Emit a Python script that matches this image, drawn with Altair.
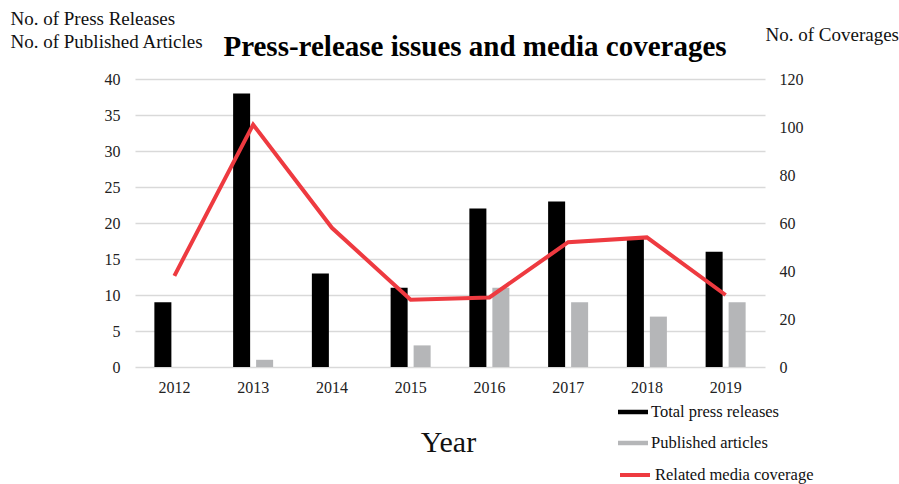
import altair as alt
import pandas as pd

years = ["2012", "2013", "2014", "2015", "2016", "2017", "2018", "2019"]
total_releases = [9, 38, 13, 11, 22, 23, 18, 16]
published_articles = [0, 1, 0, 3, 11, 9, 7, 9]
media_coverage = [38, 101, 58, 28, 29, 52, 54, 30]
series_names = ["Total press releases", "Published articles"]
line_name = "Related media coverage"

FONT = "Liberation Serif"

bars_df = pd.DataFrame(
    [{"Year": y, "Series": series_names[0], "Value": v} for y, v in zip(years, total_releases)]
    + [{"Year": y, "Series": series_names[1], "Value": v} for y, v in zip(years, published_articles)]
)
line_df = pd.DataFrame({"Year": years, "Coverage": media_coverage, "Series": line_name})

x_scale = alt.Scale(domain=years, paddingInner=0.416, paddingOuter=0.208)

bars = alt.Chart(bars_df).mark_bar().encode(
    x=alt.X("Year:N", scale=x_scale, sort=years,
            axis=alt.Axis(title="Year", labelAngle=0, labelFont=FONT, labelFontSize=16,
                          labelColor="#222222", labelPadding=12, titleFont=FONT,
                          titleFontSize=30, titleFontWeight="normal", titleColor="#111111",
                          titleX=313, titleY=84, titleAlign="center",
                          titleBaseline="alphabetic")),
    xOffset=alt.XOffset("Series:N", sort=series_names,
                        scale=alt.Scale(domain=series_names, paddingInner=0.26, paddingOuter=0.13)),
    y=alt.Y("Value:Q", scale=alt.Scale(domain=[0, 40]),
            axis=alt.Axis(values=list(range(0, 41, 5)), grid=True, gridColor="#d9d9d9",
                          gridWidth=1.5, labelFont=FONT, labelFontSize=16, labelColor="#222222",
                          labelPadding=15,
                          title=["No. of Press Releases", "No. of Published Articles"],
                          titleAngle=0, titleAlign="left", titleBaseline="alphabetic",
                          titleX=-125, titleY=-55, titleFont=FONT, titleFontSize=19,
                          titleFontWeight="normal", titleColor="#111111", titleLineHeight=23)),
    color=alt.Color("Series:N", sort=series_names,
                    scale=alt.Scale(domain=series_names, range=["#000000", "#b5b6b8"]),
                    legend=alt.Legend(title=None, orient="none", legendX=483, legendY=318,
                                      symbolType="M-1,-0.15L1,-0.15L1,0.15L-1,0.15Z",
                                      symbolSize=900, symbolStrokeWidth=0,
                                      labelFont=FONT, labelFontSize=16.5, labelColor="#111111",
                                      labelOffset=3, rowPadding=7, labelLimit=300)),
)

line = alt.Chart(line_df).mark_line(strokeWidth=4).encode(
    x=alt.X("Year:N", scale=x_scale, sort=years),
    y=alt.Y("Coverage:Q", scale=alt.Scale(domain=[0, 120]),
            axis=alt.Axis(orient="right", values=list(range(0, 121, 20)), grid=False,
                          labelFont=FONT, labelFontSize=16, labelColor="#222222",
                          labelPadding=14, title="No. of Coverages", titleAngle=0,
                          titleAlign="left", titleBaseline="alphabetic", titleX=0, titleY=-39,
                          titleFont=FONT, titleFontSize=19, titleFontWeight="normal",
                          titleColor="#111111")),
    stroke=alt.Stroke("Series:N", scale=alt.Scale(domain=[line_name], range=["#ee3a40"]),
                      legend=alt.Legend(title=None, orient="none", legendX=483, legendY=379,
                                        symbolType="stroke", symbolSize=900,
                                        symbolStrokeWidth=4, labelFont=FONT, labelFontSize=16.5,
                                        labelColor="#111111", labelOffset=3, labelLimit=300)),
)

chart = alt.layer(bars, line).resolve_scale(y="independent", color="independent").properties(
    width=630,
    height=288,
    title=alt.TitleParams("Press-release issues and media coverages", font=FONT, fontSize=29,
                          fontWeight="bold", color="#000000", anchor="middle", dx=25,
                          offset=16, dy=69),
    autosize=alt.AutoSizeParams(type="none"),
    padding={"left": 135, "top": 79, "right": 134, "bottom": 117},
    background="white",
).configure_view(stroke=None).configure_axis(domain=False, ticks=False, labelFont=FONT)

chart.save("out.html", embed_options={"renderer": "svg", "actions": False})
